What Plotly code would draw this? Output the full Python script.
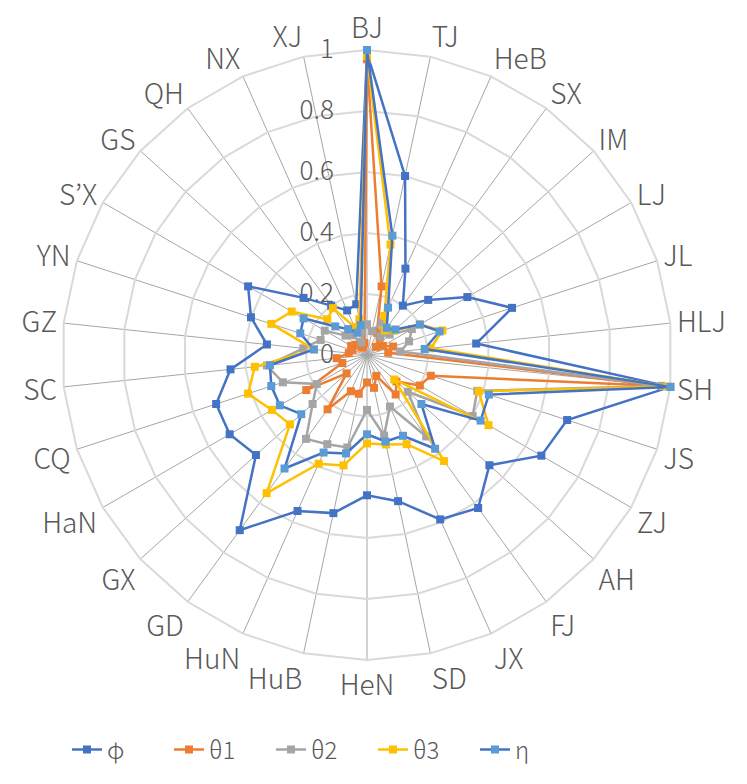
import plotly.graph_objects as go

categories = ["BJ", "TJ", "HeB", "SX", "IM", "LJ", "JL", "HLJ", "SH", "JS",
              "ZJ", "AH", "FJ", "JX", "SD", "HeN", "HuB", "HuN", "GD", "GX",
              "HaN", "CQ", "SC", "GZ", "YN", "S’X", "GS", "QH", "NX", "XJ"]

phi = [0.99, 0.60, 0.31, 0.20, 0.27, 0.38, 0.50, 0.36, 1.00, 0.69,
       0.66, 0.54, 0.62, 0.59, 0.49, 0.46, 0.53, 0.56, 0.71, 0.49,
       0.52, 0.52, 0.45, 0.33, 0.40, 0.45, 0.28, 0.20, 0.16, 0.17]
theta1 = [0.97, 0.23, 0.08, 0.07, 0.04, 0.06, 0.09, 0.07, 0.97, 0.22,
          0.20, 0.13, 0.16, 0.075, 0.11, 0.09, 0.13, 0.13, 0.22, 0.09,
          0.23, 0.085, 0.10, 0.06, 0.05, 0.06, 0.05, 0.03, 0.03, 0.04]
theta2 = [0.10, 0.08, 0.12, 0.075, 0.10, 0.17, 0.145, 0.11, 0.97, 0.38,
          0.40, 0.18, 0.33, 0.185, 0.27, 0.18, 0.31, 0.32, 0.34, 0.24,
          0.19, 0.29, 0.33, 0.21, 0.16, 0.16, 0.095, 0.08, 0.045, 0.08]
theta3 = [0.98, 0.37, 0.14, 0.10, 0.12, 0.20, 0.26, 0.21, 0.99, 0.385,
          0.46, 0.12, 0.43, 0.32, 0.30, 0.29, 0.37, 0.39, 0.56, 0.34,
          0.36, 0.41, 0.37, 0.175, 0.33, 0.285, 0.175, 0.19, 0.10, 0.12]
eta = [1.00, 0.40, 0.17, 0.11, 0.125, 0.20, 0.25, 0.19, 1.00, 0.42,
       0.43, 0.24, 0.38, 0.29, 0.29, 0.26, 0.33, 0.35, 0.46, 0.29,
       0.33, 0.33, 0.32, 0.175, 0.23, 0.24, 0.14, 0.105, 0.08, 0.10]

radial_ticks = [0, 0.2, 0.4, 0.6, 0.8, 1]
radial_tick_text = ["0", "0.2", "0.4", "0.6", "0.8", "1"]

series = [
    ("φ", phi, "#4472C4", "#4472C4"),
    ("θ1", theta1, "#ED7D31", "#ED7D31"),
    ("θ2", theta2, "#A5A5A5", "#A5A5A5"),
    ("θ3", theta3, "#FFC000", "#FFC000"),
    ("η", eta, "#4472C4", "#5B9BD5"),
]

fig = go.Figure()
for name, vals, lc, mc in series:
    fig.add_trace(go.Scatterpolar(
        r=vals + vals[:1],
        theta=categories + categories[:1],
        mode="lines+markers",
        name=name,
        line=dict(color=lc, width=2.5),
        marker=dict(symbol="square", size=8, color=mc),
    ))

FONT = "Noto Sans CJK JP"
NB = "\u00a0"
fig.update_layout(
    width=747, height=784,
    paper_bgcolor="white",
    plot_bgcolor="white",
    margin=dict(l=0, r=0, t=0, b=0),
    font=dict(family=FONT, color="#595959", size=24, weight=300),
    polar=dict(
        domain=dict(x=[54/747, 664/747], y=[132/784, 742/784]),
        bgcolor="white",
        gridshape="linear",
        radialaxis=dict(
            range=[0, 1],
            tickvals=radial_ticks,
            ticktext=[t + NB * 5 for t in radial_tick_text],
            angle=90,
            tickangle=90,
            side="counterclockwise",
            showline=False,
            ticks="",
            gridcolor="#D9D9D9",
            gridwidth=2,
            tickfont=dict(size=26, color="#595959", family=FONT, weight=300),
            layer="below traces",
        ),
        angularaxis=dict(
            direction="clockwise",
            rotation=90,
            gridcolor="#A6A6A6",
            gridwidth=1.2,
            showline=True,
            linecolor="#D9D9D9",
            linewidth=2,
            ticks="",
            tickfont=dict(size=28, color="#595959", family=FONT, weight=300),
            layer="below traces",
        ),
    ),
    legend=dict(
        orientation="h",
        x=59/747, xanchor="left",
        y=1 - 742/784, yanchor="middle",
        font=dict(size=24, color="#595959", family=FONT, weight=300),
        entrywidth=57, entrywidthmode="pixels",
    ),
)

fig.write_html("out.html")
